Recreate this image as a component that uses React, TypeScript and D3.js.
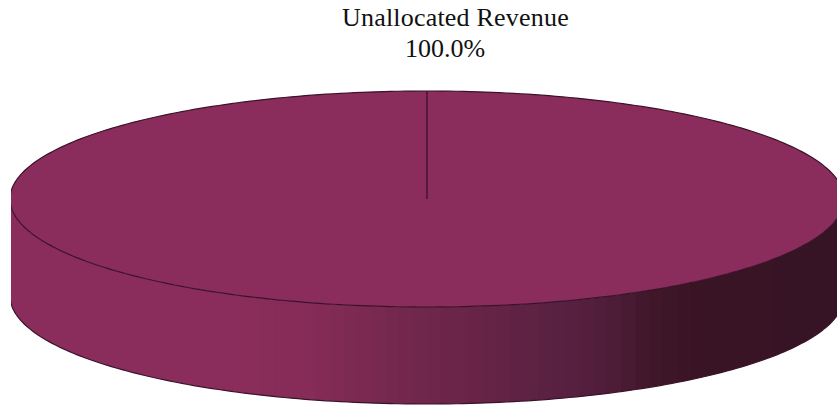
import React from "react";
import * as d3 from "d3";

const categories = ["Unallocated Revenue"];
const values = [100];
const labels = ["100.0%"];
const shadeStops = [0, 0.24, 0.347, 0.45, 0.524, 0.671, 0.73, 0.76, 0.82, 1];
const shadeColors = ["#8b2d5c", "#8b2d5c", "#862c58", "#75284e", "#6b2549", "#562040", "#4a1b33", "#401729", "#381424", "#371425"];

const W = 837, H = 407;
const cx = 427, cy = 199, rx = 417, ry = 108, depth = 97, clipLeft = 11;
const TOP = "#8b2d5c", EDGE = "#3a1229";

export default function App() {
  const slice = d3.pie<number>().sort(null)(values)[0];
  const angles = d3.range(0, 361).map((d) => slice.startAngle + ((slice.endAngle - slice.startAngle) * d) / 360);
  const px = (a: number) => cx + rx * Math.sin(a);
  const py = (a: number) => cy - ry * Math.cos(a);
  const line = d3.line<number>().x(px).y(py);
  const topPath = line(angles)! + "Z";
  const front = angles.filter((a) => a >= Math.PI / 2 && a <= (3 * Math.PI) / 2);
  const bottom = d3.line<number>().x(px).y((a) => py(a) + depth);
  const frontEdge = line(front)!;
  const bottomEdge = bottom(front)!;
  const sidePath = frontEdge + "L" + bottomEdge.slice(1).split("L").reverse().join("L") + "Z";
  const x = d3.scaleLinear().domain([0, 1]).range([cx - rx, cx + rx]);
  const shade = d3.scaleLinear<string>().domain(shadeStops).range(shadeColors).interpolate(d3.interpolateRgb);
  const bands = d3.range(0, 1, 1 / 60);
  return (
    <svg width={W} height={H} style={{ position: "absolute", left: 0, top: 0 }}>
      <defs>
        <clipPath id="side"><path d={sidePath} /></clipPath>
        <clipPath id="frame"><rect x={clipLeft} y={0} width={W - clipLeft} height={H} /></clipPath>
      </defs>
      <g clipPath="url(#frame)">
        <g clipPath="url(#side)">
          {bands.map((b) => (
            <rect key={b} x={x(b)} y={cy} width={x(1 / 60) - x(0) + 1} height={ry + depth + 5} fill={shade(b)} />
          ))}
        </g>
        <path d={bottomEdge} fill="none" stroke={EDGE} strokeWidth={1.2} />
        <path d={topPath} fill={TOP} stroke={EDGE} strokeWidth={1.2} />
        <line x1={px(0)} y1={py(0)} x2={cx} y2={cy} stroke={EDGE} strokeWidth={1.3} />
      </g>
      <g fontFamily="'Liberation Serif', serif" fontSize={26} fill="#111" textAnchor="start">
        <text x={342} y={26} letterSpacing={0.2}>{categories[0]}</text>
        <text x={405} y={57}>{labels[0]}</text>
      </g>
    </svg>
  );
}
